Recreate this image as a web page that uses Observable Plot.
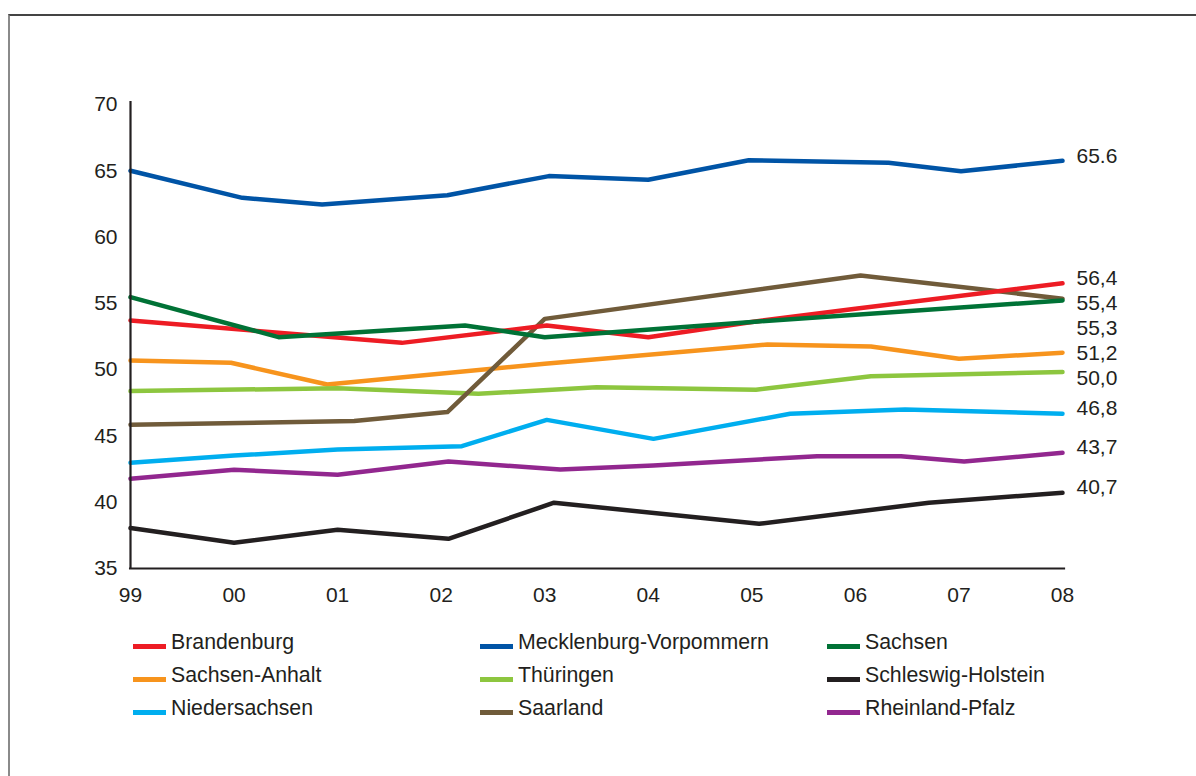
<!DOCTYPE html>
<html><head><meta charset="utf-8">
<script src="https://cdn.jsdelivr.net/npm/d3@7"></script>
<script src="https://cdn.jsdelivr.net/npm/@observablehq/plot@0.6"></script>
<style>
html,body{margin:0;padding:0;background:#fff;}
body{width:1196px;height:776px;position:relative;overflow:hidden;font-family:"Liberation Sans",Arial,sans-serif;}
#frame{position:absolute;left:8px;top:14px;width:1300px;height:900px;border-left:2px solid #8a8a8a;border-top:2px solid #444;}
#chart{position:absolute;left:0;top:0;}
#legend{position:absolute;left:0;top:0;}
.item{position:absolute;height:21px;font-size:21.3px;line-height:21px;color:#231f20;white-space:nowrap;}
.sw{position:absolute;left:0;top:12.5px;width:33px;height:5px;}
.tx{position:absolute;left:38px;top:0;}
</style></head><body>
<div id="frame"></div><div id="chart"></div><div id="legend"></div>
<script>
// Series names (legend order) and colours
const states = ["Brandenburg","Mecklenburg-Vorpommern","Sachsen","Sachsen-Anhalt","Thüringen","Schleswig-Holstein","Niedersachsen","Saarland","Rheinland-Pfalz"];
const colors = ["#ed1c24","#0054a6","#007236","#f7941d","#8dc63f","#231f20","#00aeef","#705b3a","#92278f"];

// Values (x = year, fractional where the vertex is between ticks)
const brandenburgX = [1999, 2001.62, 2003.02, 2004.0, 2005.0, 2006.0, 2008];
const brandenburgY = [53.71, 52.02, 53.33, 52.45, 53.6, 54.6, 56.52];
const mecklenburgX = [1999, 2000.08, 2000.85, 2002.06, 2003.04, 2004.0, 2004.97, 2006.32, 2007.02, 2008];
const mecklenburgY = [65.0, 62.96, 62.46, 63.16, 64.6, 64.32, 65.8, 65.6, 64.97, 65.75];
const sachsenX = [1999, 2000.43, 2002.23, 2003.0, 2005.0, 2008];
const sachsenY = [55.47, 52.45, 53.33, 52.45, 53.6, 55.22];
const sachsenAnhaltX = [1999, 1999.97, 2000.9, 2003.0, 2005.15, 2006.15, 2007.0, 2008];
const sachsenAnhaltY = [50.69, 50.52, 48.88, 50.44, 51.9, 51.75, 50.82, 51.28];
const thueringenX = [1999, 2001.0, 2002.36, 2003.5, 2005.04, 2006.15, 2008];
const thueringenY = [48.38, 48.6, 48.18, 48.67, 48.48, 49.5, 49.82];
const schleswigX = [1999, 2000.0, 2001.0, 2002.07, 2003.09, 2005.07, 2006.71, 2008];
const schleswigY = [38.05, 36.94, 37.92, 37.24, 39.96, 38.37, 39.96, 40.71];
const niedersachsenX = [1999, 2000.0, 2001.0, 2002.2, 2003.02, 2004.05, 2005.37, 2006.48, 2008];
const niedersachsenY = [42.97, 43.52, 43.97, 44.23, 46.21, 44.78, 46.67, 46.99, 46.67];
const saarlandX = [1999, 2001.16, 2002.06, 2003.0, 2006.05, 2008];
const saarlandY = [45.84, 46.12, 46.8, 53.83, 57.1, 55.35];
const rheinlandX = [1999, 2000.0, 2001.0, 2002.07, 2003.15, 2004.05, 2005.63, 2006.44, 2007.05, 2008];
const rheinlandY = [41.77, 42.45, 42.07, 43.07, 42.47, 42.77, 43.47, 43.47, 43.07, 43.73];

// End labels (state, text)
const endLabelStates = ["Mecklenburg-Vorpommern","Brandenburg","Saarland","Sachsen","Sachsen-Anhalt","Thüringen","Niedersachsen","Rheinland-Pfalz","Schleswig-Holstein"];
const endLabelTexts = ["65.6","56,4","55,4","55,3","51,2","50,0","46,8","43,7","40,7"];

// Axis ticks
const xTicks = [1999,2000,2001,2002,2003,2004,2005,2006,2007,2008];
const xTickLabels = ["99","00","01","02","03","04","05","06","07","08"];
const yTicks = [35,40,45,50,55,60,65,70];

// Build long table (drawing order)
const seriesList = [
  ["Mecklenburg-Vorpommern", mecklenburgX, mecklenburgY],
  ["Sachsen-Anhalt", sachsenAnhaltX, sachsenAnhaltY],
  ["Thüringen", thueringenX, thueringenY],
  ["Niedersachsen", niedersachsenX, niedersachsenY],
  ["Rheinland-Pfalz", rheinlandX, rheinlandY],
  ["Schleswig-Holstein", schleswigX, schleswigY],
  ["Saarland", saarlandX, saarlandY],
  ["Brandenburg", brandenburgX, brandenburgY],
  ["Sachsen", sachsenX, sachsenY]
];
const rows = [];
for (const [s, xs, ys] of seriesList) xs.forEach((x, i) => rows.push({state: s, year: x, value: ys[i]}));

// End labels: sit slightly above line end, pushed down top-to-bottom to avoid overlap
const endVal = s => { const r = seriesList.find(d => d[0] === s); return r[2][r[2].length - 1]; };
const labels = endLabelStates.map((s, i) => ({state: s, text: endLabelTexts[i], ly: endVal(s) + 0.38}));
labels.sort((a, b) => b.ly - a.ly);
const gap = 1.886;
for (let i = 1; i < labels.length; i++) labels[i].ly = Math.min(labels[i].ly, labels[i - 1].ly - gap);

const plot = Plot.plot({
  width: 1196, height: 620,
  marginLeft: 130, marginRight: 134, marginTop: 104, marginBottom: 52,
  style: {fontFamily: "'Liberation Sans', Arial, sans-serif", fontSize: "21px", color: "#231f20", background: "transparent", overflow: "visible"},
  x: {domain: [1999, 2008]},
  y: {domain: [35, 70]},
  color: {domain: states, range: colors},
  marks: [
    Plot.axisY({ticks: yTicks, tickSize: 0, tickPadding: 13, label: null, fontSize: 21}),
    Plot.axisX({ticks: xTicks, tickSize: 0, tickPadding: 19, label: null, fontSize: 21,
      tickFormat: d => xTickLabels[xTicks.indexOf(d)]}),
    Plot.line(rows, {x: "year", y: "value", z: "state", stroke: "state", strokeWidth: 4.5, strokeLinejoin: "round"}),
    Plot.ruleX([1999], {y1: 35, y2: 70.23, stroke: "#231f20", strokeWidth: 2.2}),
    Plot.ruleY([35], {x1: 1998.99, x2: 2008.03, stroke: "#231f20", strokeWidth: 2.2}),
    Plot.text(labels, {x: () => 2008, y: "ly", text: "text", textAnchor: "start", dx: 14, fontSize: 21, fill: "#231f20"})
  ]
});
document.getElementById("chart").appendChild(plot);

// Legend (3 columns)
const legend = document.getElementById("legend");
const colX = [133, 480, 827];
const rowBase = [649, 682, 715];
states.forEach((s, i) => {
  const item = document.createElement("div");
  item.className = "item";
  item.style.left = colX[i % 3] + "px";
  item.style.top = (rowBase[Math.floor(i / 3)] - 17.5) + "px";
  const sw = document.createElement("div");
  sw.className = "sw"; sw.style.background = colors[i];
  const tx = document.createElement("span");
  tx.className = "tx"; tx.textContent = s;
  item.appendChild(sw); item.appendChild(tx);
  legend.appendChild(item);
});
</script></body></html>
